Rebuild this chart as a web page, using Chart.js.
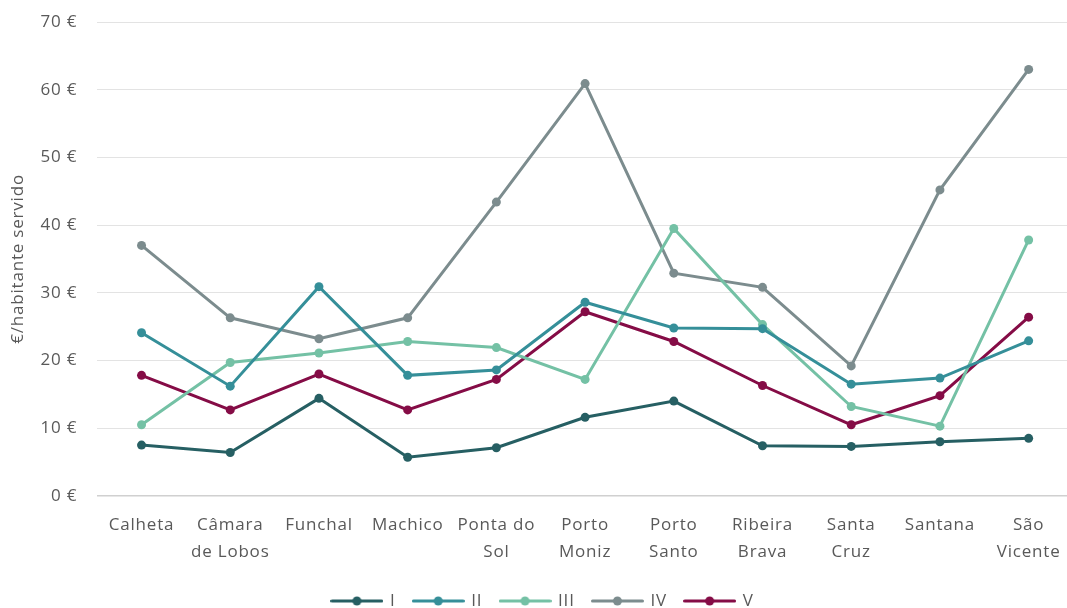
<!DOCTYPE html>
<html lang="pt">
<head>
    <meta charset="UTF-8">
    <title>€/habitante servido por concelho</title>
    <script src="https://cdn.jsdelivr.net/npm/chart.js"></script>
    <style>
        html, body { margin: 0; padding: 0; background: #fff; overflow: hidden; }
        #wrap { width: 1078px; height: 608px; }
    </style>
</head>
<body>
    <div id="wrap"><canvas id="grafico"></canvas></div>

    <script>
        // Concelhos (eixo x)
        const concelhos = [
            'Calheta', ['Câmara', 'de Lobos'], 'Funchal', 'Machico', ['Ponta do', 'Sol'],
            ['Porto', 'Moniz'], ['Porto', 'Santo'], ['Ribeira', 'Brava'], ['Santa', 'Cruz'],
            'Santana', ['São', 'Vicente']
        ];

        // Valores em €/habitante servido
        const serieI   = [7.5, 6.4, 14.4, 5.7, 7.1, 11.6, 14.0, 7.4, 7.3, 8.0, 8.5];
        const serieII  = [24.1, 16.2, 30.9, 17.8, 18.6, 28.6, 24.8, 24.7, 16.5, 17.4, 22.9];
        const serieIII = [10.5, 19.7, 21.1, 22.8, 21.9, 17.2, 39.5, 25.3, 13.2, 10.3, 37.8];
        const serieIV  = [37.0, 26.3, 23.2, 26.3, 43.4, 60.9, 32.9, 30.8, 19.2, 45.2, 63.0];
        const serieV   = [17.8, 12.7, 18.0, 12.7, 17.2, 27.2, 22.8, 16.3, 10.5, 14.8, 26.4];

        const nomes = ['I', 'II', 'III', 'IV', 'V'];
        const cores = ['#265f63', '#358f99', '#74c1a5', '#7c8c8e', '#850c46'];
        const series = [serieI, serieII, serieIII, serieIV, serieV];

        const corTexto = '#595959';
        const fonte = "'Open Sans', sans-serif";

        // Ícone da legenda: linha com marcador ao centro
        function iconeLegenda(cor) {
            const c = document.createElement('canvas');
            c.width = 53;
            c.height = 10;
            const g = c.getContext('2d');
            g.strokeStyle = cor;
            g.lineWidth = 3;
            g.lineCap = 'round';
            g.beginPath();
            g.moveTo(1.5, 5);
            g.lineTo(51.5, 5);
            g.stroke();
            g.fillStyle = cor;
            g.beginPath();
            g.arc(26.5, 5, 4.5, 0, Math.PI * 2);
            g.fill();
            return c;
        }

        // Espaçamento entre letras um pouco mais largo
        const espacamento = {
            id: 'espacamento',
            beforeUpdate: chart => { chart.ctx.letterSpacing = '0.8px'; },
            beforeDraw: chart => { chart.ctx.letterSpacing = '0.8px'; }
        };

        const datasets = series.map((valores, i) => ({
            label: nomes[i],
            data: valores,
            borderColor: cores[i],
            backgroundColor: cores[i],
            borderWidth: 3,
            pointRadius: 4.5,
            pointHoverRadius: 5,
            pointBorderWidth: 0,
            tension: 0
        }));

        new Chart(document.getElementById('grafico'), {
            type: 'line',
            data: { labels: concelhos, datasets: datasets },
            plugins: [espacamento],
            options: {
                responsive: true,
                maintainAspectRatio: false,
                animation: false,
                layout: { padding: { top: 22, right: 0, left: 8, bottom: -11.5 } },
                scales: {
                    x: {
                        offset: true,
                        grid: { display: false },
                        border: { display: false },
                        ticks: {
                            color: corTexto,
                            font: { family: fonte, size: 17, lineHeight: 1.6 },
                            padding: 8,
                            maxRotation: 0,
                            autoSkip: false
                        }
                    },
                    y: {
                        min: 0,
                        max: 70,
                        ticks: {
                            stepSize: 10,
                            color: corTexto,
                            font: { family: fonte, size: 17 },
                            padding: 2,
                            callback: v => v + ' €'
                        },
                        grid: {
                            color: ctx => ctx.tick.value === 0 ? '#d0d0d0' : '#e3e3e3',
                            lineWidth: ctx => ctx.tick.value === 0 ? 1.5 : 1,
                            drawTicks: true,
                            tickLength: 18,
                            tickColor: 'rgba(0,0,0,0)'
                        },
                        border: { display: false },
                        title: {
                            display: true,
                            text: '€/habitante servido',
                            color: corTexto,
                            font: { family: fonte, size: 17 },
                            padding: { top: 0, bottom: 10 }
                        }
                    }
                },
                plugins: {
                    tooltip: { enabled: false },
                    legend: {
                        position: 'bottom',
                        labels: {
                            usePointStyle: true,
                            pointStyleWidth: 49,
                            color: corTexto,
                            font: { family: fonte, size: 17 },
                            padding: 18.25,
                            generateLabels: chart => chart.data.datasets.map((ds, i) => ({
                                text: ds.label,
                                fontColor: corTexto,
                                pointStyle: iconeLegenda(ds.borderColor),
                                datasetIndex: i,
                                hidden: false,
                                lineWidth: 0
                            }))
                        }
                    }
                }
            }
        });
    </script>
</body>
</html>
